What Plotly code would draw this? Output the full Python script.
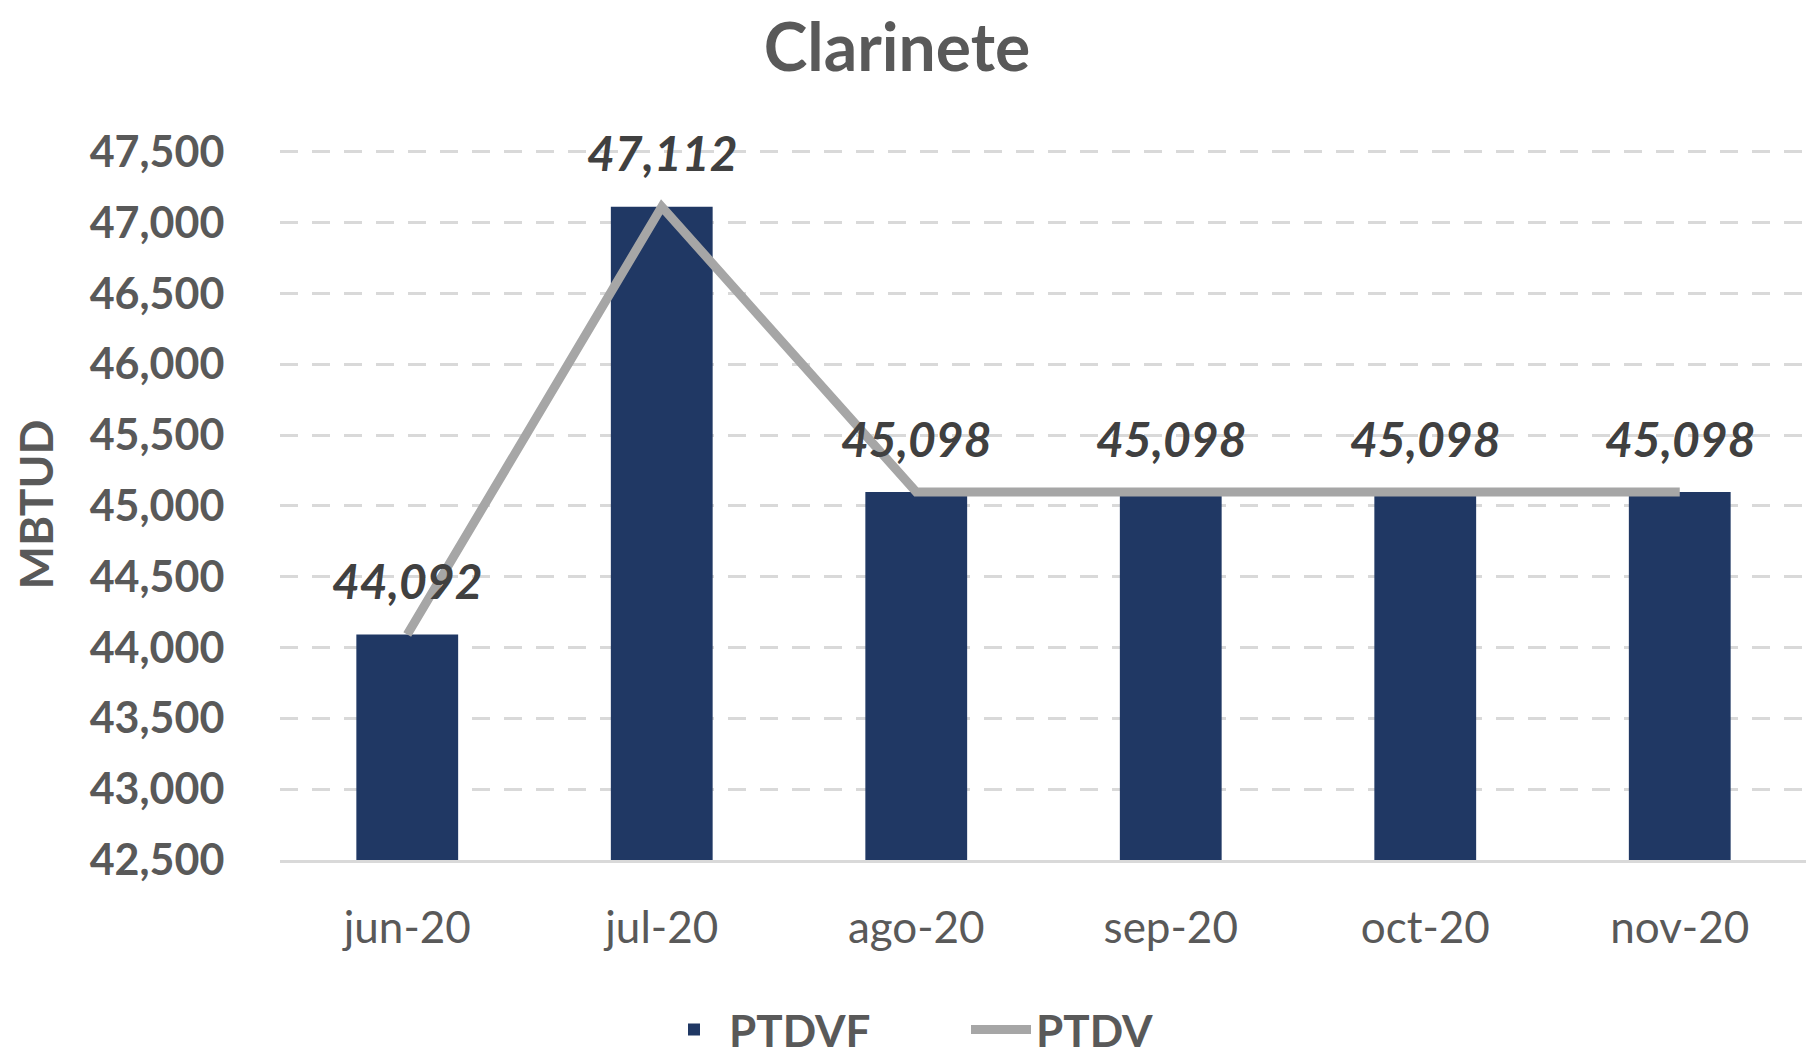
import plotly.graph_objects as go

categories = ["jun-20", "jul-20", "ago-20", "sep-20", "oct-20", "nov-20"]
ptdvf = [44092, 47112, 45098, 45098, 45098, 45098]
ptdv = [44092, 47112, 45098, 45098, 45098, 45098]
label_values = ["44,092", "47,112", "45,098", "45,098", "45,098", "45,098"]
y_ticks = [42500, 43000, 43500, 44000, 44500, 45000, 45500, 46000, 46500, 47000, 47500]

FONT = "Lato, 'Open Sans', sans-serif"
GRAY = "#595959"
W, H = 1814, 1060

fig = go.Figure()
fig.add_trace(go.Bar(
    x=categories, y=ptdvf, name="PTDVF",
    marker=dict(color="#203864", line=dict(width=0)),
))
fig.add_trace(go.Scatter(
    x=categories, y=ptdv, name="PTDV", mode="lines",
    line=dict(color="#A6A6A6", width=9),
))

for c, v, t in zip(categories, ptdv, label_values):
    fig.add_annotation(
        x=c, y=v, text=t, showarrow=False, yshift=54,
        xanchor="center", yanchor="middle",
        font=dict(family=FONT, size=48, color="#404040", weight="bold", style="italic"),
    )

fig.update_layout(
    width=W, height=H,
    paper_bgcolor="white", plot_bgcolor="white",
    margin=dict(l=272, r=15, t=141, b=208),
    bargap=0.6,
    font=dict(family=FONT, color=GRAY),
    title=dict(
        text="<b>Clarinete</b>", x=889 / W, xref="container", xanchor="center",
        y=1 - 40 / H, yref="container", yanchor="middle",
        font=dict(family=FONT, size=66, color=GRAY),
    ),
    legend=dict(
        orientation="h", xref="container", x=958 / W, xanchor="center",
        yref="container", y=1 - 1022 / H, yanchor="middle",
        font=dict(family=FONT, size=44, color=GRAY, weight="bold"),
        itemwidth=60, traceorder="normal", entrywidth=232,
    ),
    xaxis=dict(
        showgrid=False, showline=True, linecolor="#D9D9D9", linewidth=3,
        ticks="outside", ticklen=27, tickcolor="rgba(0,0,0,0)",
        tickfont=dict(family=FONT, size=44, color=GRAY),
    ),
    yaxis=dict(
        range=[42500, 47520], tickvals=y_ticks,
        ticktext=[f"{v:,}" for v in y_ticks],
        showgrid=True, gridcolor="#D9D9D9", gridwidth=3, griddash="18px,14px",
        zeroline=False, showline=False,
        ticks="outside", ticklen=46, tickcolor="rgba(0,0,0,0)",
        tickfont=dict(family=FONT, size=43, color=GRAY, weight="bold"),
        title=dict(text="<b>MBTUD</b>", standoff=28,
                   font=dict(family=FONT, size=46, color=GRAY)),
    ),
)

fig.write_html("out.html")
